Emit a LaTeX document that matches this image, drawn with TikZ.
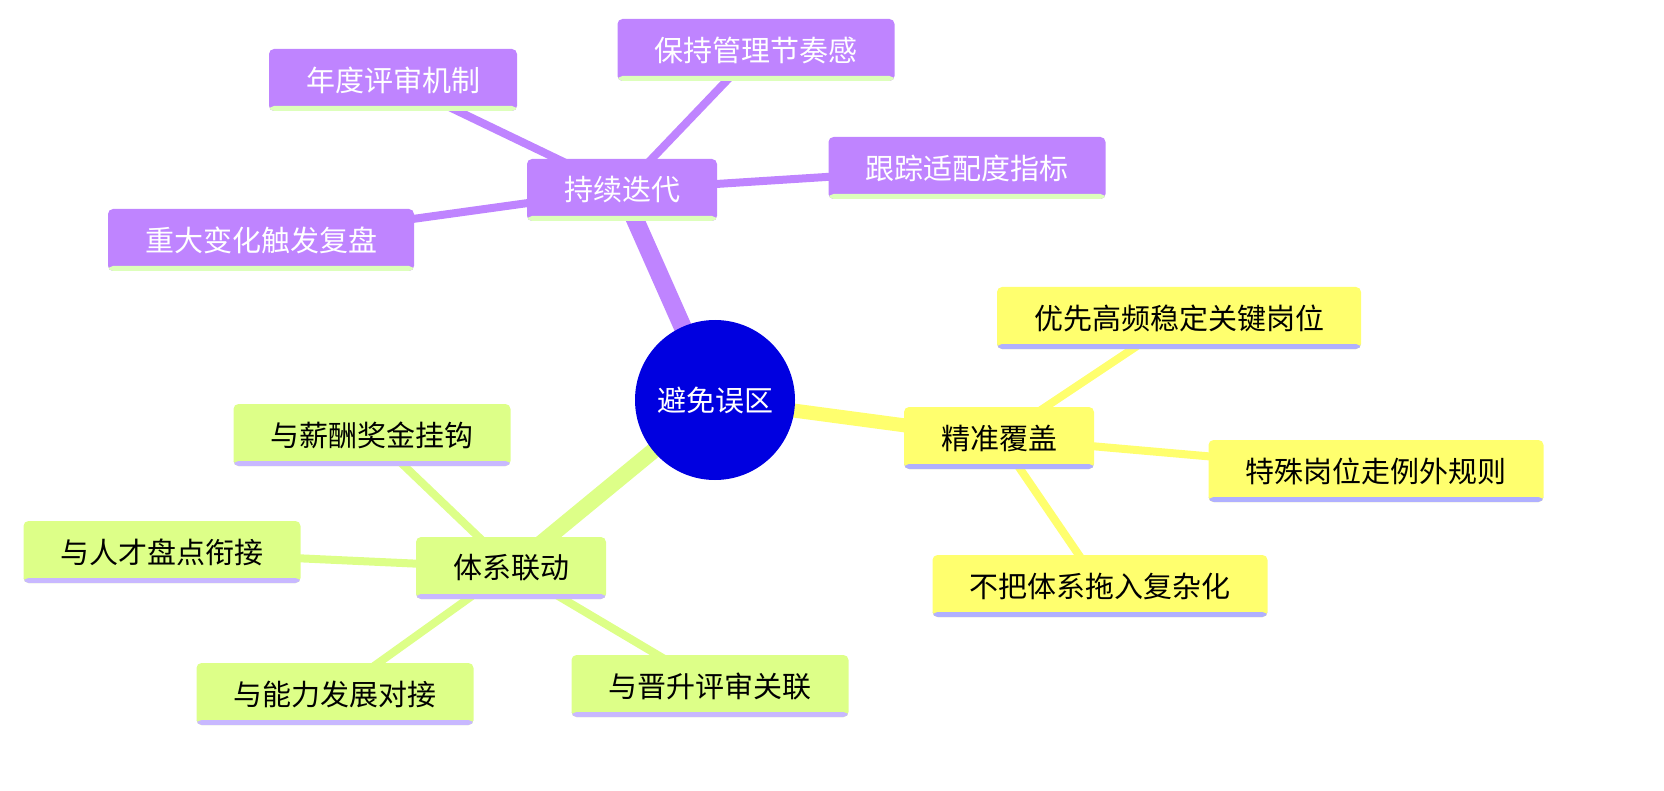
\documentclass[tikz,border=0pt]{standalone}
\usepackage{fontspec}
\newfontfamily\cjk{Noto Sans CJK SC}
\usetikzlibrary{backgrounds}
\definecolor{pur}{HTML}{BF84FF}
\definecolor{yel}{HTML}{FFFF6E}
\definecolor{grn}{HTML}{DDFF88}
\definecolor{cblue}{HTML}{0000E0}
\definecolor{sgrn}{HTML}{DDFFBB}
\definecolor{sblu}{HTML}{B0B0FF}
\definecolor{spur}{HTML}{C8B8FF}
\tikzset{
 box/.style={rounded corners=5pt, minimum height=62pt, inner xsep=37pt, inner ysep=0pt, font=\cjk\fontsize{29}{32}\selectfont},
 pbox/.style={box, fill=pur, text=white, path picture={\fill[sgrn] ([yshift=5pt]path picture bounding box.south west) rectangle (path picture bounding box.south east);}},
 ybox/.style={box, fill=yel, text=black, path picture={\fill[sblu] ([yshift=5pt]path picture bounding box.south west) rectangle (path picture bounding box.south east);}},
 gbox/.style={box, fill=grn, text=black, path picture={\fill[spur] ([yshift=5pt]path picture bounding box.south west) rectangle (path picture bounding box.south east);}},
 pe/.style={draw=pur, line width=#1},
 ye/.style={draw=yel, line width=#1},
 ge/.style={draw=grn, line width=#1},
}
\begin{document}
\begin{tikzpicture}[x=1pt,y=-1pt]
\useasboundingbox (0,0) rectangle (1664,791);
\node[circle, fill=cblue, text=white, minimum size=160pt, inner sep=0pt, font=\cjk\fontsize{29}{32}\selectfont] (c) at (715,400) {避免误区};
\node[pbox] (p) at (622,190) {持续迭代};
\node[pbox] (p1) at (393,80) {年度评审机制};
\node[pbox] (p2) at (756,50) {保持管理节奏感};
\node[pbox] (p3) at (967,168) {跟踪适配度指标};
\node[pbox] (p4) at (261,240) {重大变化触发复盘};
\node[ybox] (y) at (999,438) {精准覆盖};
\node[ybox] (y1) at (1179,318) {优先高频稳定关键岗位};
\node[ybox] (y2) at (1376,471) {特殊岗位走例外规则};
\node[ybox] (y3) at (1100,586) {不把体系拖入复杂化};
\node[gbox] (g) at (511,568) {体系联动};
\node[gbox] (g1) at (372,435) {与薪酬奖金挂钩};
\node[gbox] (g2) at (162,552) {与人才盘点衔接};
\node[gbox] (g3) at (335,694) {与能力发展对接};
\node[gbox] (g4) at (710,686) {与晋升评审关联};
\begin{pgfonlayer}{background}
\draw[pe=18pt] (c.center) -- (p.center);
\draw[ye=14pt] (c.center) -- (y.center);
\draw[ge=16pt] (c.center) -- (g.center);
\foreach \a in {p1,p2,p3,p4} \draw[pe=8pt] (p.center) -- (\a.center);
\foreach \a in {y1,y2,y3} \draw[ye=8pt] (y.center) -- (\a.center);
\foreach \a in {g1,g2,g3,g4} \draw[ge=8pt] (g.center) -- (\a.center);
\end{pgfonlayer}
\end{tikzpicture}
\end{document}
